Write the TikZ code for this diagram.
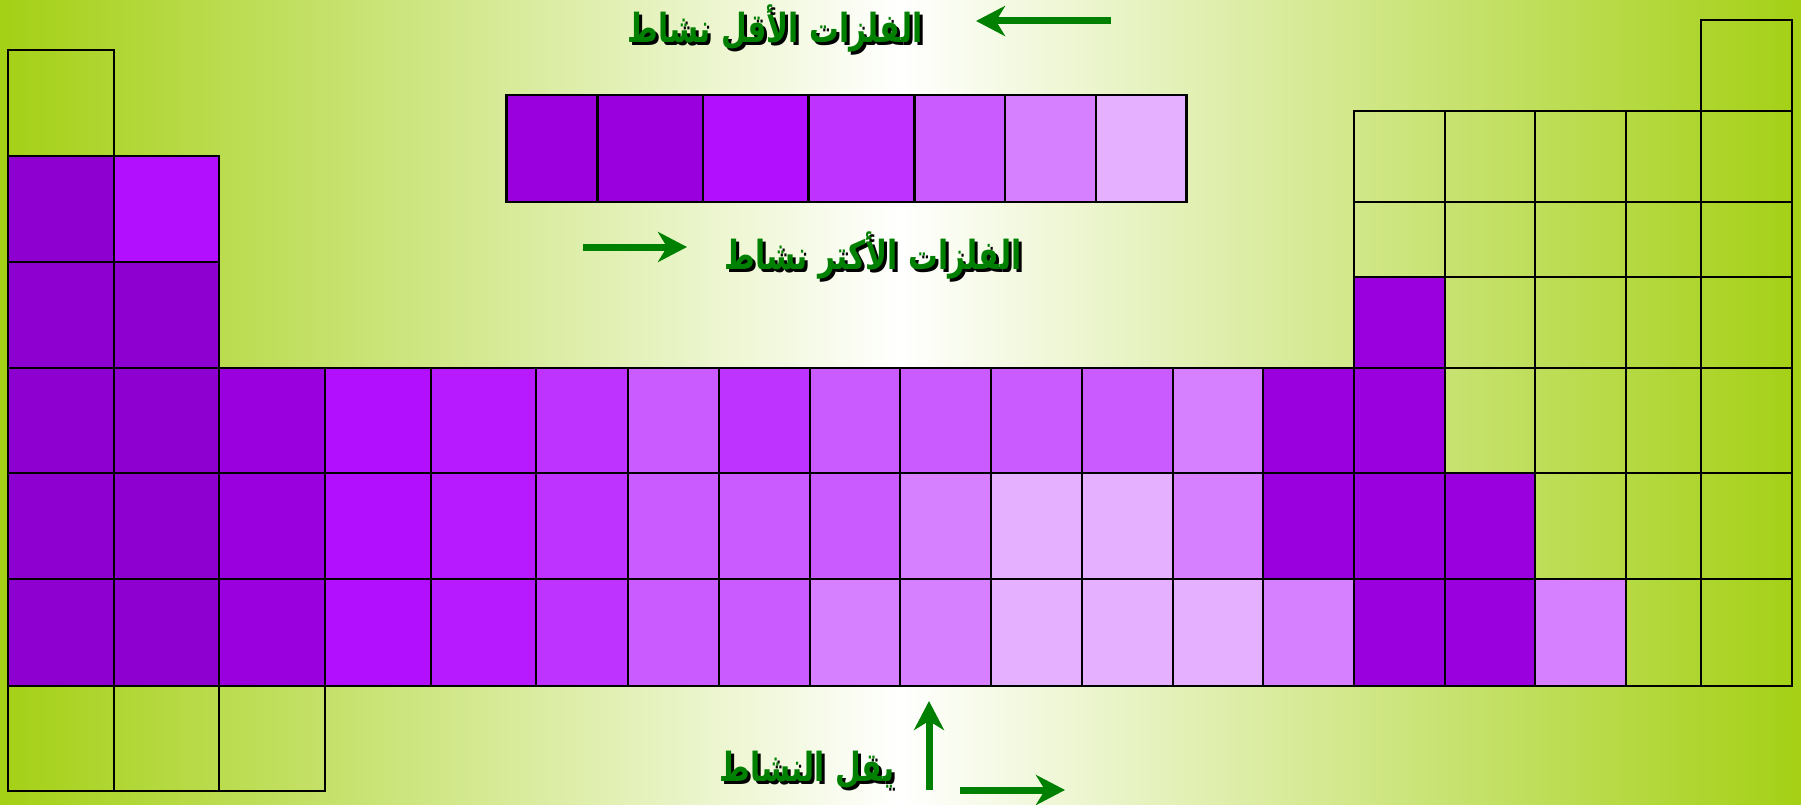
\documentclass[tikz,border=0pt]{standalone}
\usepackage{fontspec}
\usetikzlibrary{arrows.meta}
\TeXXeTstate=1
\newfontfamily\arabicfont[Script=Arabic, FakeStretch=0.74]{DejaVu Sans}
\definecolor{bggreen}{HTML}{A4D015}
\definecolor{txtgreen}{HTML}{008000}
\definecolor{pA}{HTML}{8E00CF}
\definecolor{pB}{HTML}{9900DD}
\definecolor{pC}{HTML}{B30FFF}
\definecolor{pD}{HTML}{B71AFF}
\definecolor{pE}{HTML}{BE33FF}
\definecolor{pF}{HTML}{CA5CFF}
\definecolor{pG}{HTML}{D780FF}
\definecolor{pH}{HTML}{E5B0FF}
\tikzset{
  cell/.style={draw=black, line width=2.4pt},
  arlabel/.style={font=\arabicfont\bfseries\fontsize{40}{44}\selectfont, text=txtgreen, inner sep=0pt},
  arshadow/.style={arlabel, text=black},
  trend/.style={draw=txtgreen, line width=7pt, -{Stealth[length=29pt,width=30pt,inset=9pt]}}
}
\def\colx{{8,114,219,325,431,536,628,719,810,900,991,1082,1173,1263,1354,1445,1535,1626,1701,1792}}
\def\stripx{{506.5,597.3,702.9,808.6,914.3,1005,1095.8,1186.5}}
% #1 top, #2 bottom, #3 first column, #4 fill colours
\newcommand{\cellrow}[4]{%
  \foreach \c [count=\i from #3] in {#4} {
    \pgfmathsetmacro\xa{\colx[\i]}
    \pgfmathsetmacro\xb{\colx[\i+1]}
    \draw[cell, fill=\c] (\xa,#1) rectangle (\xb,#2);
  }}
\begin{document}
\begin{tikzpicture}[x=1pt, y=-1pt]
  \useasboundingbox (0,0) rectangle (1801,805);
  \shade[left color=bggreen, right color=bggreen, middle color=white] (0,0) rectangle (1801,805);

  % left block
  \cellrow{50}{156}{0}{none}
  \cellrow{156}{262}{0}{pA,pC}
  \cellrow{262}{368}{0}{pA,pA}
  % right block
  \cellrow{20}{111}{18}{none}
  \cellrow{111}{202}{14}{none,none,none,none,none}
  \cellrow{202}{277}{14}{none,none,none,none,none}
  \cellrow{277}{368}{14}{pB,none,none,none,none}
  % main rows
  \cellrow{368}{473}{0}{pA,pA,pB,pC,pD,pE,pF,pE,pF,pF,pF,pF,pG,pB,pB,none,none,none,none}
  \cellrow{473}{579}{0}{pA,pA,pB,pC,pD,pE,pF,pF,pF,pG,pH,pH,pG,pB,pB,pB,none,none,none}
  \cellrow{579}{686}{0}{pA,pA,pB,pC,pD,pE,pF,pF,pG,pG,pH,pH,pH,pG,pB,pB,pG,none,none}
  \cellrow{686}{791}{0}{none,none,none}

  % activity strip
  \foreach \c [count=\i from 0] in {pB,pB,pC,pE,pF,pG,pH} {
    \pgfmathsetmacro\xa{\stripx[\i]}
    \pgfmathsetmacro\xb{\stripx[\i+1]}
    \draw[cell, fill=\c] (\xa,95) rectangle (\xb,202);
  }

  \node[arshadow] (lessshadow) at (778,31) {\beginR الفلزات الأقل نشاط\endR};
  \node[arlabel] (less) at (775,28) {\beginR الفلزات الأقل نشاط\endR};
  \coordinate (lessA) at (1111,21);
  \coordinate (lessB) at (976,21);
  \draw[trend] (lessA) -- (lessB);

  \node[arshadow] (moreshadow) at (876,258) {\beginR الفلزات الأكتر نشاط\endR};
  \node[arlabel] (more) at (873,255) {\beginR الفلزات الأكتر نشاط\endR};
  \coordinate (moreA) at (583,247);
  \coordinate (moreB) at (687,247);
  \draw[trend] (moreA) -- (moreB);

  \node[arshadow] (dropshadow) at (810,773) {\beginR يقل النشاط\endR};
  \node[arlabel] (drop) at (807,770) {\beginR يقل النشاط\endR};
  \coordinate (upA) at (929,790);
  \coordinate (upB) at (929,701);
  \draw[trend] (upA) -- (upB);
  \coordinate (rightA) at (960,790);
  \coordinate (rightB) at (1065,790);
  \draw[trend] (rightA) -- (rightB);
\end{tikzpicture}
\end{document}
